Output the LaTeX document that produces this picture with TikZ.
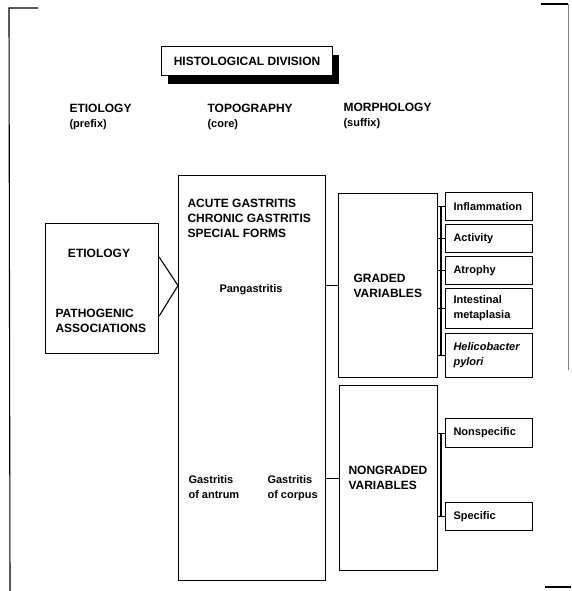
\documentclass[tikz,border=0pt]{standalone}
\usepackage{fontspec}
\setmainfont{Liberation Sans}
\usetikzlibrary{shadows,calc}

\begin{document}
\begin{tikzpicture}[x=1pt,y=-1pt,line width=1.1pt]
\tikzset{box/.style={draw,inner sep=0pt,anchor=north west},
  lbl/.style={anchor=base west,inner sep=0pt,align=left,font=\fontsize{12}{15}\selectfont\bfseries},
  sml/.style={lbl,font=\fontsize{11}{15}\selectfont\bfseries},
  var/.style={draw,anchor=north west,inner xsep=8pt,inner ysep=0pt,text width=71pt,align=left,font=\fontsize{11}{15}\selectfont\bfseries}}
\useasboundingbox (0,0) rectangle (571,591);
% page frame
\draw (38,8) -- (9,8) -- (10,591);
\draw (541,4) -- (568,4);
\draw[line width=0.6pt,gray] (568,4) -- (568,370);
\draw (545,587) -- (571,587);
% title
\node[box,fill=white,minimum width=171,minimum height=29,font=\fontsize{12}{15}\selectfont\bfseries,
  drop shadow={shadow xshift=6pt,shadow yshift=-8pt,fill=black,opacity=1}] (histo) at (161,46) {HISTOLOGICAL DIVISION};
% base of a two-line node is its last line
\node[lbl] (etiohead) at (69,128) {ETIOLOGY\\\fontsize{11}{14}\selectfont(prefix)};
\node[lbl] (topohead) at (207,128) {TOPOGRAPHY\\\fontsize{11}{14}\selectfont(core)};
\node[lbl] (morphhead) at (343,126) {MORPHOLOGY\\\fontsize{11}{14}\selectfont(suffix)};
% boxes
\node[box,minimum width=113,minimum height=130] (etio) at (45,223) {};
\node[box,minimum width=147,minimum height=405] (topo) at (178,175) {};
\node[box,minimum width=99,minimum height=184] (graded) at (338,193) {};
\node[box,minimum width=98,minimum height=185] (nongraded) at (339,385) {};
% texts inside
\node[lbl,anchor=base] (etiotxt) at (99,257) {ETIOLOGY};
\node[lbl] (pathotxt) at (55,332) {PATHOGENIC\\ASSOCIATIONS};
\node[lbl] (formstxt) at (187,237) {ACUTE GASTRITIS\\CHRONIC GASTRITIS\\SPECIAL FORMS};
\node[sml,anchor=base] (pangtxt) at (251,292) {Pangastritis};
\node[sml] (antrtxt) at (188,498) {Gastritis\\of antrum};
\node[sml] (corptxt) at (267,498) {Gastritis\\of corpus};
\node[lbl] (gradtxt) at (353,297) {GRADED\\VARIABLES};
\node[lbl] (nongtxt) at (348,489) {NONGRADED\\VARIABLES};
% variables
\node[var,minimum height=28] (inflam) at (445,192) {Inflammation};
\node[var,minimum height=28] (activ) at (445,224) {Activity};
\node[var,minimum height=28] (atroph) at (445,256) {Atrophy};
\node[var,minimum height=40] (intest) at (445,288) {Intestinal\\metaplasia};
\node[var,minimum height=44] (helico) at (445,333) {\itshape Helicobacter\\\itshape pylori};
\node[var,minimum height=29] (nonspec) at (445,418) {Nonspecific};
\node[var,minimum height=28] (spec) at (445,502) {Specific};
% connectors
\draw ($(etio.north east)+(0,34)$) -- (topo.west |- graded.west) -- ($(etio.south east)+(0,-38)$);
\draw (topo.east |- graded.west) -- (graded.west);
\draw (topo.east |- nongraded.west) -- (nongraded.west);
\foreach \v in {inflam,activ,atroph,intest,helico}
  \draw (graded.east |- \v.west) -- (\v.west);
\draw ($(inflam.west)+(-4,0)$) -- ($(helico.west)+(-4,0)$);
\foreach \v in {nonspec,spec}
  \draw (nongraded.east |- \v.west) -- (\v.west);
\draw ($(nonspec.west)+(-4,0)$) -- ($(spec.west)+(-4,0)$);
\end{tikzpicture}
\end{document}
